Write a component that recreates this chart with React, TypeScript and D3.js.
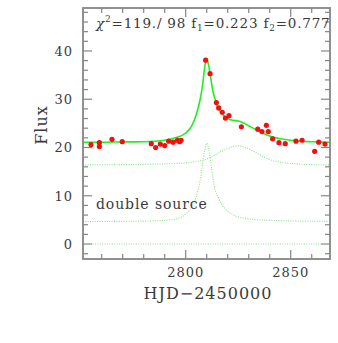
import React from 'react';
import * as d3 from 'd3';

// observed photometry (HJD-2450000, flux)
const obsDays = [
  2754.9, 2758.9, 2758.9, 2764.9, 2769.8, 2783.6, 2785.7, 2787.9, 2790.0, 2791.9,
  2794.0, 2796.0, 2797.1, 2797.8, 2809.5, 2811.6, 2814.6, 2815.7, 2817.4, 2818.9,
  2820.6, 2826.5, 2834.3, 2836.3, 2838.4, 2839.3, 2841.4, 2844.4, 2847.4, 2852.5,
  2855.4, 2861.4, 2863.3, 2866.3,
];
const obsFlux = [
  20.6, 21.0, 20.2, 21.7, 21.2, 20.8, 20.0, 20.7, 20.4, 21.3,
  21.1, 21.5, 21.2, 21.5, 38.1, 35.3, 29.3, 28.2, 27.3, 26.1,
  26.6, 24.3, 23.8, 23.3, 24.6, 23.3, 21.8, 21.0, 20.8, 21.3,
  21.5, 19.2, 21.1, 20.7,
];

// total model (solid)
const fitDays = [
  2751, 2760, 2770, 2780, 2790, 2795, 2800, 2803, 2805, 2807, 2808, 2809, 2810,
  2811, 2812, 2813, 2814, 2815, 2817, 2819, 2821, 2823, 2825, 2827, 2830, 2833,
  2836, 2840, 2845, 2850, 2855, 2860, 2869,
];
const fitFlux = [
  21.1, 21.1, 21.15, 21.2, 21.5, 22.0, 23.0, 24.6, 26.8, 30.2, 32.8, 36.5, 38.4,
  36.8, 34.2, 31.6, 30.0, 28.6, 27.2, 26.2, 25.8, 25.6, 25.5, 25.2, 24.5, 23.8,
  23.1, 22.4, 21.8, 21.5, 21.3, 21.2, 21.05,
];

// broad source component (dotted)
const wideDays = [
  2751, 2770, 2780, 2790, 2800, 2805, 2810, 2813, 2816, 2819, 2822, 2825, 2828,
  2831, 2834, 2837, 2840, 2845, 2850, 2855, 2860, 2869,
];
const wideFlux = [
  16.4, 16.45, 16.5, 16.6, 16.8, 17.1, 17.6, 18.2, 19.0, 19.6, 20.1, 20.35, 20.1,
  19.5, 18.8, 18.1, 17.5, 16.95, 16.7, 16.55, 16.45, 16.4,
];

// narrow source component (dotted)
const narrowDays = [
  2751, 2770, 2780, 2788, 2794, 2798, 2800.5, 2803, 2805, 2806.8, 2808, 2809, 2810,
  2811, 2812, 2813, 2814, 2815.5, 2817, 2819.5, 2822, 2826, 2830, 2835, 2845, 2855, 2869,
];
const narrowFlux = [
  4.65, 4.7, 4.75, 4.85, 5.1, 5.6, 6.4, 7.8, 9.8, 13.0, 16.5, 19.3, 20.9,
  19.5, 16.8, 13.5, 11.3, 9.6, 8.3, 7.0, 6.2, 5.5, 5.2, 5.0, 4.85, 4.75, 4.7,
];

const xTickLabels = [2800, 2850];
const yTickLabels = [0, 10, 20, 30, 40];

const W = 338;
const H = 343;
const m = { left: 83, right: 330, top: 8, bottom: 259 };
const frame = '#858585';
const ink = '#3a3a3a';
const font = '"DejaVu Serif", "Liberation Serif", serif';

export default function App() {
  const x = d3.scaleLinear().domain([2751.1, 2868.7]).range([m.left, m.right]);
  const y = d3.scaleLinear().domain([-3.1, 48.9]).range([m.bottom, m.top]);

  const line = (xs: number[], ys: number[]) =>
    d3.line<number>()
      .x((_, i) => x(xs[i]))
      .y((d) => y(d))
      .curve(d3.curveMonotoneX)(ys) as string;

  const xMinor = d3.range(2760, 2869, 10);
  const yMinor = d3.range(-2, 49, 2);

  return (
    <svg width={W} height={H} style={{ position: 'absolute', left: 0, top: 0, background: '#fff' }}>
      <defs>
        <clipPath id="plot">
          <rect x={m.left} y={m.top} width={m.right - m.left} height={m.bottom - m.top} />
        </clipPath>
      </defs>

      {/* ticks */}
      <g stroke={frame} strokeWidth={1.2}>
        {xMinor.map((t) => {
          const major = t % 50 === 0;
          const len = major ? 9 : 5;
          return (
            <g key={'x' + t}>
              <line x1={x(t)} x2={x(t)} y1={m.bottom} y2={m.bottom - len} />
              <line x1={x(t)} x2={x(t)} y1={m.top} y2={m.top + len} />
            </g>
          );
        })}
        {yMinor.map((t) => {
          const major = t % 10 === 0;
          const len = major ? 9 : 5;
          return (
            <g key={'y' + t}>
              <line x1={m.left} x2={m.left + len} y1={y(t)} y2={y(t)} />
              <line x1={m.right} x2={m.right - len} y1={y(t)} y2={y(t)} />
            </g>
          );
        })}
      </g>

      <g clipPath="url(#plot)" fill="none">
        <line x1={m.left} x2={m.right} y1={y(0)} y2={y(0)} stroke="#86e486" strokeWidth={1.1} strokeDasharray="1 1.4" />
        <path d={line(wideDays, wideFlux)} stroke="#86e486" strokeWidth={1.1} strokeDasharray="1 1.4" />
        <path d={line(narrowDays, narrowFlux)} stroke="#86e486" strokeWidth={1.1} strokeDasharray="1 1.4" />
        <path d={line(fitDays, fitFlux)} stroke="#22ee22" strokeWidth={1.6} />
        {obsDays.map((d, i) => (
          <circle key={i} cx={x(d)} cy={y(obsFlux[i])} r={2.6} fill="#f01010" />
        ))}
      </g>

      <rect x={m.left} y={m.top} width={m.right - m.left} height={m.bottom - m.top}
        fill="none" stroke={frame} strokeWidth={1.8} />

      {/* tick labels */}
      <g fontFamily={font} fontSize={13} fill={ink} letterSpacing={1}>
        {xTickLabels.map((t) => (
          <text key={t} x={x(t)} y={277} textAnchor="middle">{t}</text>
        ))}
        {yTickLabels.map((t) => (
          <text key={t} x={73} y={y(t) + 5} textAnchor="end">{t}</text>
        ))}
      </g>

      <text x={208} y={299} textAnchor="middle" fontFamily={font} fontSize={16} fill={ink} letterSpacing={1}>
        HJD−2450000
      </text>
      <text transform="translate(47,125) rotate(-90)" textAnchor="middle" fontFamily={font} fontSize={16} fill={ink} letterSpacing={1}>
        Flux
      </text>

      <text x={96} y={28} fontFamily={font} fontSize={13.5} fill={ink} letterSpacing={0.8}>
        <tspan fontStyle="italic">χ</tspan>
        <tspan dy={-6} fontSize={9}>2</tspan>
        <tspan dy={6}>=119./ 98  f</tspan>
        <tspan dy={3} fontSize={9}>1</tspan>
        <tspan dy={-3}>=0.223  f</tspan>
        <tspan dy={3} fontSize={9}>2</tspan>
        <tspan dy={-3}>=0.777</tspan>
      </text>

      <text x={96} y={209} fontFamily={font} fontSize={14} fill={ink} letterSpacing={0.9}>
        double source
      </text>
    </svg>
  );
}
